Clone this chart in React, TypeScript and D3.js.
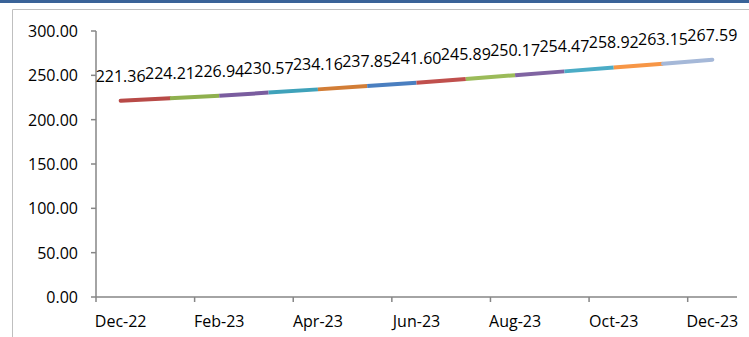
import React from "react";
import * as d3 from "d3";

const categories = ["Dec-22","Jan-23","Feb-23","Mar-23","Apr-23","May-23","Jun-23","Jul-23","Aug-23","Sep-23","Oct-23","Nov-23","Dec-23"];
const values = [221.36,224.21,226.94,230.57,234.16,237.85,241.60,245.89,250.17,254.47,258.92,263.15,267.59];
const yTicks = [0,50,100,150,200,250,300];
const segmentColors = ["#B84A47","#8FB04E","#7A5D9F","#3FA2BA","#D27D36","#4A7FC0","#C0504D","#9BBB59","#8064A2","#4BACC6","#F79646","#A5B8D8"];

const W = 749, H = 337;
const FONT = "'Open Sans', 'Noto Sans', sans-serif";

export default function App() {
  const x = d3.scaleBand<string>().domain(categories).range([96, 737]).paddingInner(0).paddingOuter(0);
  const y = d3.scaleLinear().domain([0, 300]).range([297, 31]);
  const cx = (c: string) => (x(c) as number) + x.bandwidth() / 2;
  const tickCats = categories.filter((_, i) => i % 2 === 0);
  const boundaries = d3.range(0, categories.length + 1, 2).map(i => 96 + i * x.bandwidth());

  return (
    <svg width={W} height={H} style={{ position: "absolute", left: 0, top: 0, display: "block", background: "#fff" }}>
      <rect x={0} y={0} width={W} height={3} fill="#3A6398" />
      <line x1={12.5} y1={9.5} x2={W} y2={9.5} stroke="#BFBFBF" strokeWidth={1} />
      <line x1={12.5} y1={9.5} x2={12.5} y2={H} stroke="#BFBFBF" strokeWidth={1} />

      {/* y axis */}
      <line x1={96} y1={y(300)} x2={96} y2={y(0)} stroke="#868686" strokeWidth={1.5} />
      {yTicks.map(t => (
        <g key={t}>
          <line x1={91} y1={y(t)} x2={96} y2={y(t)} stroke="#868686" strokeWidth={1.5} />
          <text x={78} y={y(t)} textAnchor="end" dominantBaseline="central" fontFamily={FONT} fontSize={16} fill="#000">
            {t.toFixed(2)}
          </text>
        </g>
      ))}

      {/* x axis */}
      <line x1={96} y1={y(0)} x2={737} y2={y(0)} stroke="#868686" strokeWidth={1.5} />
      {boundaries.map((b, i) => (
        <line key={i} x1={b} y1={y(0)} x2={b} y2={y(0) + 5} stroke="#868686" strokeWidth={1.5} />
      ))}
      {tickCats.map(c => (
        <text key={c} x={cx(c)} y={327} textAnchor="middle" fontFamily={FONT} fontSize={16} fill="#000">{c}</text>
      ))}

      {/* line segments */}
      {values.slice(0, -1).map((v, i) => (
        <line key={i}
          x1={cx(categories[i])} y1={y(v)}
          x2={cx(categories[i + 1])} y2={y(values[i + 1])}
          stroke={segmentColors[i]} strokeWidth={4}
          strokeLinecap={i === 0 || i === values.length - 2 ? "round" : "butt"} />
      ))}

      {/* data labels */}
      {values.map((v, i) => (
        <text key={i} x={cx(categories[i])} y={y(v) - 19} textAnchor="middle" fontFamily={FONT} fontSize={16} fill="#000">
          {v.toFixed(2)}
        </text>
      ))}
    </svg>
  );
}
